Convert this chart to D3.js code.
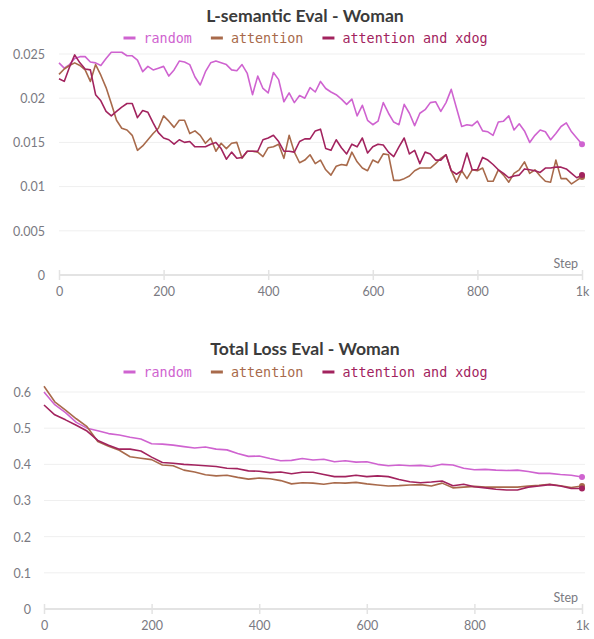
<!DOCTYPE html>
<html>
<head>
<meta charset="utf-8">
<script src="https://cdn.jsdelivr.net/npm/d3@7/dist/d3.min.js"></script>
<style>
  html, body { margin: 0; padding: 0; background: #fff; }
  svg { display: block; }
</style>
</head>
<body>
<svg id="chart" width="594" height="639"></svg>
<script>
// Series names and colours
const seriesNames = ["random", "attention", "attention and xdog"];
const seriesColors = ["#cf63d0", "#a86a4b", "#a2235e"];

// L-semantic eval, logged every 10 steps
const semanticSteps = d3.range(0, 1001, 10);
const semanticRandom = [
  0.0240, 0.0234, 0.0238, 0.0245, 0.0247, 0.0247, 0.0241, 0.0240, 0.0237, 0.0245,
  0.0252, 0.0252, 0.0252, 0.0248, 0.0248, 0.0243, 0.0230, 0.0236, 0.0232, 0.0234,
  0.0236, 0.0225, 0.0232, 0.0242, 0.0241, 0.0238, 0.0224, 0.0215, 0.0230, 0.0240,
  0.0242, 0.0240, 0.0238, 0.0232, 0.0231, 0.0238, 0.0228, 0.0204, 0.0225, 0.0211,
  0.0206, 0.0229, 0.0221, 0.0196, 0.0206, 0.0195, 0.0203, 0.0200, 0.0212, 0.0207,
  0.0219, 0.0211, 0.0207, 0.0204, 0.0199, 0.0193, 0.0199, 0.0180, 0.0192, 0.0175,
  0.0170, 0.0174, 0.0195, 0.0183, 0.0173, 0.0170, 0.0193, 0.0183, 0.0169, 0.0183,
  0.0187, 0.0195, 0.0196, 0.0185, 0.0195, 0.0210, 0.0189, 0.0168, 0.0170, 0.0169,
  0.0174, 0.0163, 0.0162, 0.0158, 0.0173, 0.0174, 0.0180, 0.0164, 0.0171, 0.0163,
  0.0150, 0.0158, 0.0164, 0.0162, 0.0153, 0.0160, 0.0168, 0.0172, 0.0162, 0.0155,
  0.0148
];
const semanticAttention = [
  0.0227, 0.0233, 0.0237, 0.0240, 0.0237, 0.0232, 0.0219, 0.0238, 0.0226, 0.0212,
  0.0194, 0.0175, 0.0166, 0.0164, 0.0158, 0.0141, 0.0146, 0.0153, 0.0160, 0.0166,
  0.0180, 0.0174, 0.0167, 0.0175, 0.0175, 0.0160, 0.0163, 0.0158, 0.0149, 0.0155,
  0.0140, 0.0149, 0.0143, 0.0149, 0.0150, 0.0132, 0.0140, 0.0140, 0.0139, 0.0134,
  0.0144, 0.0145, 0.0148, 0.0132, 0.0158, 0.0139, 0.0127, 0.0130, 0.0136, 0.0126,
  0.0130, 0.0119, 0.0113, 0.0123, 0.0125, 0.0124, 0.0139, 0.0128, 0.0121, 0.0118,
  0.0130, 0.0127, 0.0137, 0.0136, 0.0107, 0.0107, 0.0109, 0.0112, 0.0118, 0.0121,
  0.0121, 0.0121, 0.0126, 0.0132, 0.0136, 0.0118, 0.0105, 0.0118, 0.0109, 0.0119,
  0.0118, 0.0121, 0.0106, 0.0106, 0.0119, 0.0113, 0.0105, 0.0115, 0.0119, 0.0128,
  0.0115, 0.0119, 0.0112, 0.0106, 0.0105, 0.0130, 0.0109, 0.0109, 0.0103, 0.0107,
  0.0111
];
const semanticXdog = [
  0.0222, 0.0219, 0.0235, 0.0249, 0.0240, 0.0233, 0.0232, 0.0204, 0.0197, 0.0185,
  0.0180, 0.0185, 0.0190, 0.0194, 0.0194, 0.0178, 0.0186, 0.0184, 0.0172, 0.0161,
  0.0155, 0.0153, 0.0148, 0.0153, 0.0150, 0.0151, 0.0145, 0.0145, 0.0145, 0.0148,
  0.0150, 0.0143, 0.0131, 0.0139, 0.0132, 0.0133, 0.0140, 0.0140, 0.0140, 0.0153,
  0.0155, 0.0158, 0.0151, 0.0140, 0.0140, 0.0139, 0.0151, 0.0154, 0.0154, 0.0163,
  0.0165, 0.0143, 0.0141, 0.0153, 0.0144, 0.0137, 0.0148, 0.0145, 0.0155, 0.0138,
  0.0145, 0.0148, 0.0147, 0.0139, 0.0134, 0.0145, 0.0155, 0.0137, 0.0141, 0.0126,
  0.0139, 0.0137, 0.0130, 0.0130, 0.0136, 0.0118, 0.0114, 0.0118, 0.0138, 0.0119,
  0.0119, 0.0133, 0.0130, 0.0125, 0.0119, 0.0115, 0.0110, 0.0112, 0.0113, 0.0120,
  0.0119, 0.0118, 0.0116, 0.0121, 0.0121, 0.0122, 0.0122, 0.0120, 0.0115, 0.0110,
  0.0113
];
const semanticYTicks = [0, 0.005, 0.01, 0.015, 0.02, 0.025];

// Total loss eval, logged every 20 steps
const totalSteps = d3.range(0, 1001, 20);
const totalRandom = [
  0.600, 0.565, 0.543, 0.516, 0.500, 0.493, 0.485, 0.481, 0.475, 0.470,
  0.457, 0.456, 0.453, 0.449, 0.445, 0.448, 0.442, 0.440, 0.430, 0.422,
  0.423, 0.416, 0.410, 0.411, 0.416, 0.412, 0.414, 0.407, 0.410, 0.406,
  0.407, 0.400, 0.396, 0.398, 0.396, 0.397, 0.394, 0.400, 0.398, 0.389,
  0.385, 0.386, 0.384, 0.383, 0.384, 0.380, 0.375, 0.375, 0.372, 0.370,
  0.365
];
const totalAttention = [
  0.616, 0.573, 0.550, 0.526, 0.504, 0.463, 0.450, 0.439, 0.421, 0.417,
  0.413, 0.398, 0.396, 0.384, 0.379, 0.371, 0.368, 0.370, 0.364, 0.359,
  0.362, 0.360, 0.355, 0.346, 0.349, 0.348, 0.345, 0.349, 0.348, 0.350,
  0.346, 0.343, 0.340, 0.341, 0.343, 0.344, 0.340, 0.348, 0.335, 0.337,
  0.339, 0.337, 0.337, 0.337, 0.337, 0.340, 0.342, 0.345, 0.341, 0.336,
  0.340
];
const totalXdog = [
  0.564, 0.537, 0.523, 0.508, 0.492, 0.466, 0.453, 0.442, 0.442, 0.437,
  0.420, 0.405, 0.403, 0.400, 0.398, 0.396, 0.394, 0.389, 0.388, 0.382,
  0.381, 0.377, 0.379, 0.374, 0.378, 0.378, 0.372, 0.366, 0.366, 0.370,
  0.366, 0.368, 0.366, 0.358, 0.352, 0.349, 0.351, 0.354, 0.341, 0.345,
  0.338, 0.335, 0.331, 0.329, 0.329, 0.337, 0.340, 0.344, 0.340, 0.333,
  0.333
];
const totalYTicks = [0, 0.1, 0.2, 0.3, 0.4, 0.5, 0.6];

const xTicks = [0, 200, 400, 600, 800, 1000];

const svg = d3.select("#chart");
const sansFont = "Lato, 'Open Sans', sans-serif";
const monoFont = "'DejaVu Sans Mono', 'Liberation Mono', monospace";

function drawPanel(opts) {
  const g = svg.append("g");
  const x = d3.scaleLinear().domain([0, 1000]).range([opts.left, 582]);
  const y = d3.scaleLinear().domain(opts.yDomain).range([opts.bottom, opts.top]);

  // title
  g.append("text")
    .attr("x", 305).attr("y", opts.titleY)
    .attr("text-anchor", "middle")
    .attr("font-family", sansFont)
    .attr("font-weight", "700")
    .attr("font-size", 17.6)
    .attr("fill", "#3b3b3b")
    .text(opts.title);

  // legend: swatch + coloured name, laid out left to right
  let lx = 123.5;
  seriesNames.forEach((name, i) => {
    const lg = g.append("g").attr("transform", `translate(${lx},${opts.legendY})`);
    lg.append("line")
      .attr("x1", 0).attr("x2", 12).attr("y1", -5).attr("y2", -5)
      .attr("stroke", seriesColors[i]).attr("stroke-width", 3);
    const t = lg.append("text")
      .attr("x", 20).attr("y", 0)
      .attr("font-family", monoFont)
      .attr("font-size", 13.4)
      .attr("fill", seriesColors[i])
      .text(name);
    lx += 20 + t.node().getComputedTextLength() + 19;
  });

  // horizontal grid + y labels
  const yAxis = d3.axisLeft(y).tickValues(opts.yTicks)
    .tickSize(0).tickPadding(0).tickFormat(d3.format("~g"));
  const ya = g.append("g").attr("transform", `translate(${opts.yLabelX},0)`).call(yAxis);
  ya.select(".domain").remove();
  ya.selectAll("text")
    .attr("font-family", sansFont)
    .attr("font-size", 12.5)
    .attr("fill", "#7a7a82")
    .attr("dy", "0.35em");

  g.append("g").selectAll("line")
    .data(opts.yTicks.filter(d => d !== 0))
    .join("line")
    .attr("x1", opts.left).attr("x2", 585)
    .attr("y1", d => y(d)).attr("y2", d => y(d))
    .attr("stroke", "#efefef").attr("stroke-width", 1);

  // x axis baseline with ticks
  g.append("line")
    .attr("x1", opts.left).attr("x2", 583)
    .attr("y1", y(0)).attr("y2", y(0))
    .attr("stroke", "#e3e3e3").attr("stroke-width", 2);
  const xAxis = d3.axisBottom(x).tickValues(xTicks)
    .tickSize(0).tickPadding(0)
    .tickFormat(d => d === 1000 ? "1k" : d);
  const xa = g.append("g").attr("transform", `translate(0,${y(0)})`).call(xAxis);
  xa.select(".domain").remove();
  xa.selectAll(".tick").append("line")
    .attr("y1", -5).attr("y2", 5)
    .attr("stroke", "#e3e3e3").attr("stroke-width", 1.5);
  xa.selectAll("text")
    .attr("font-family", sansFont)
    .attr("font-size", 12.5)
    .attr("fill", "#7a7a82")
    .attr("y", 17)
    .attr("dy", "0.35em");

  g.append("text")
    .attr("x", 578).attr("y", y(0) - 7)
    .attr("text-anchor", "end")
    .attr("font-family", sansFont)
    .attr("font-size", 12.5)
    .attr("fill", "#7a7a82")
    .text("Step");

  // series lines
  const line = d3.line()
    .x((d, i) => x(opts.steps[i]))
    .y(d => y(d));
  opts.series.forEach((vals, i) => {
    g.append("path")
      .datum(vals)
      .attr("fill", "none")
      .attr("stroke", seriesColors[i])
      .attr("stroke-width", 1.6)
      .attr("stroke-linejoin", "round")
      .attr("d", line);
  });
  opts.series.forEach((vals, i) => {
    const last = vals.length - 1;
    g.append("circle")
      .attr("cx", x(opts.steps[last]))
      .attr("cy", y(vals[last]))
      .attr("r", 3)
      .attr("fill", seriesColors[i]);
  });
}

drawPanel({
  title: "L-semantic Eval - Woman",
  titleY: 22, legendY: 43,
  left: 59, top: 54, bottom: 275, yLabelX: 45,
  yDomain: [0, 0.025], yTicks: semanticYTicks,
  steps: semanticSteps,
  series: [semanticRandom, semanticAttention, semanticXdog]
});

drawPanel({
  title: "Total Loss Eval - Woman",
  titleY: 355, legendY: 377,
  left: 44, top: 392, bottom: 609, yLabelX: 31,
  yDomain: [0, 0.6], yTicks: totalYTicks,
  steps: totalSteps,
  series: [totalRandom, totalAttention, totalXdog]
});
</script>
</body>
</html>
